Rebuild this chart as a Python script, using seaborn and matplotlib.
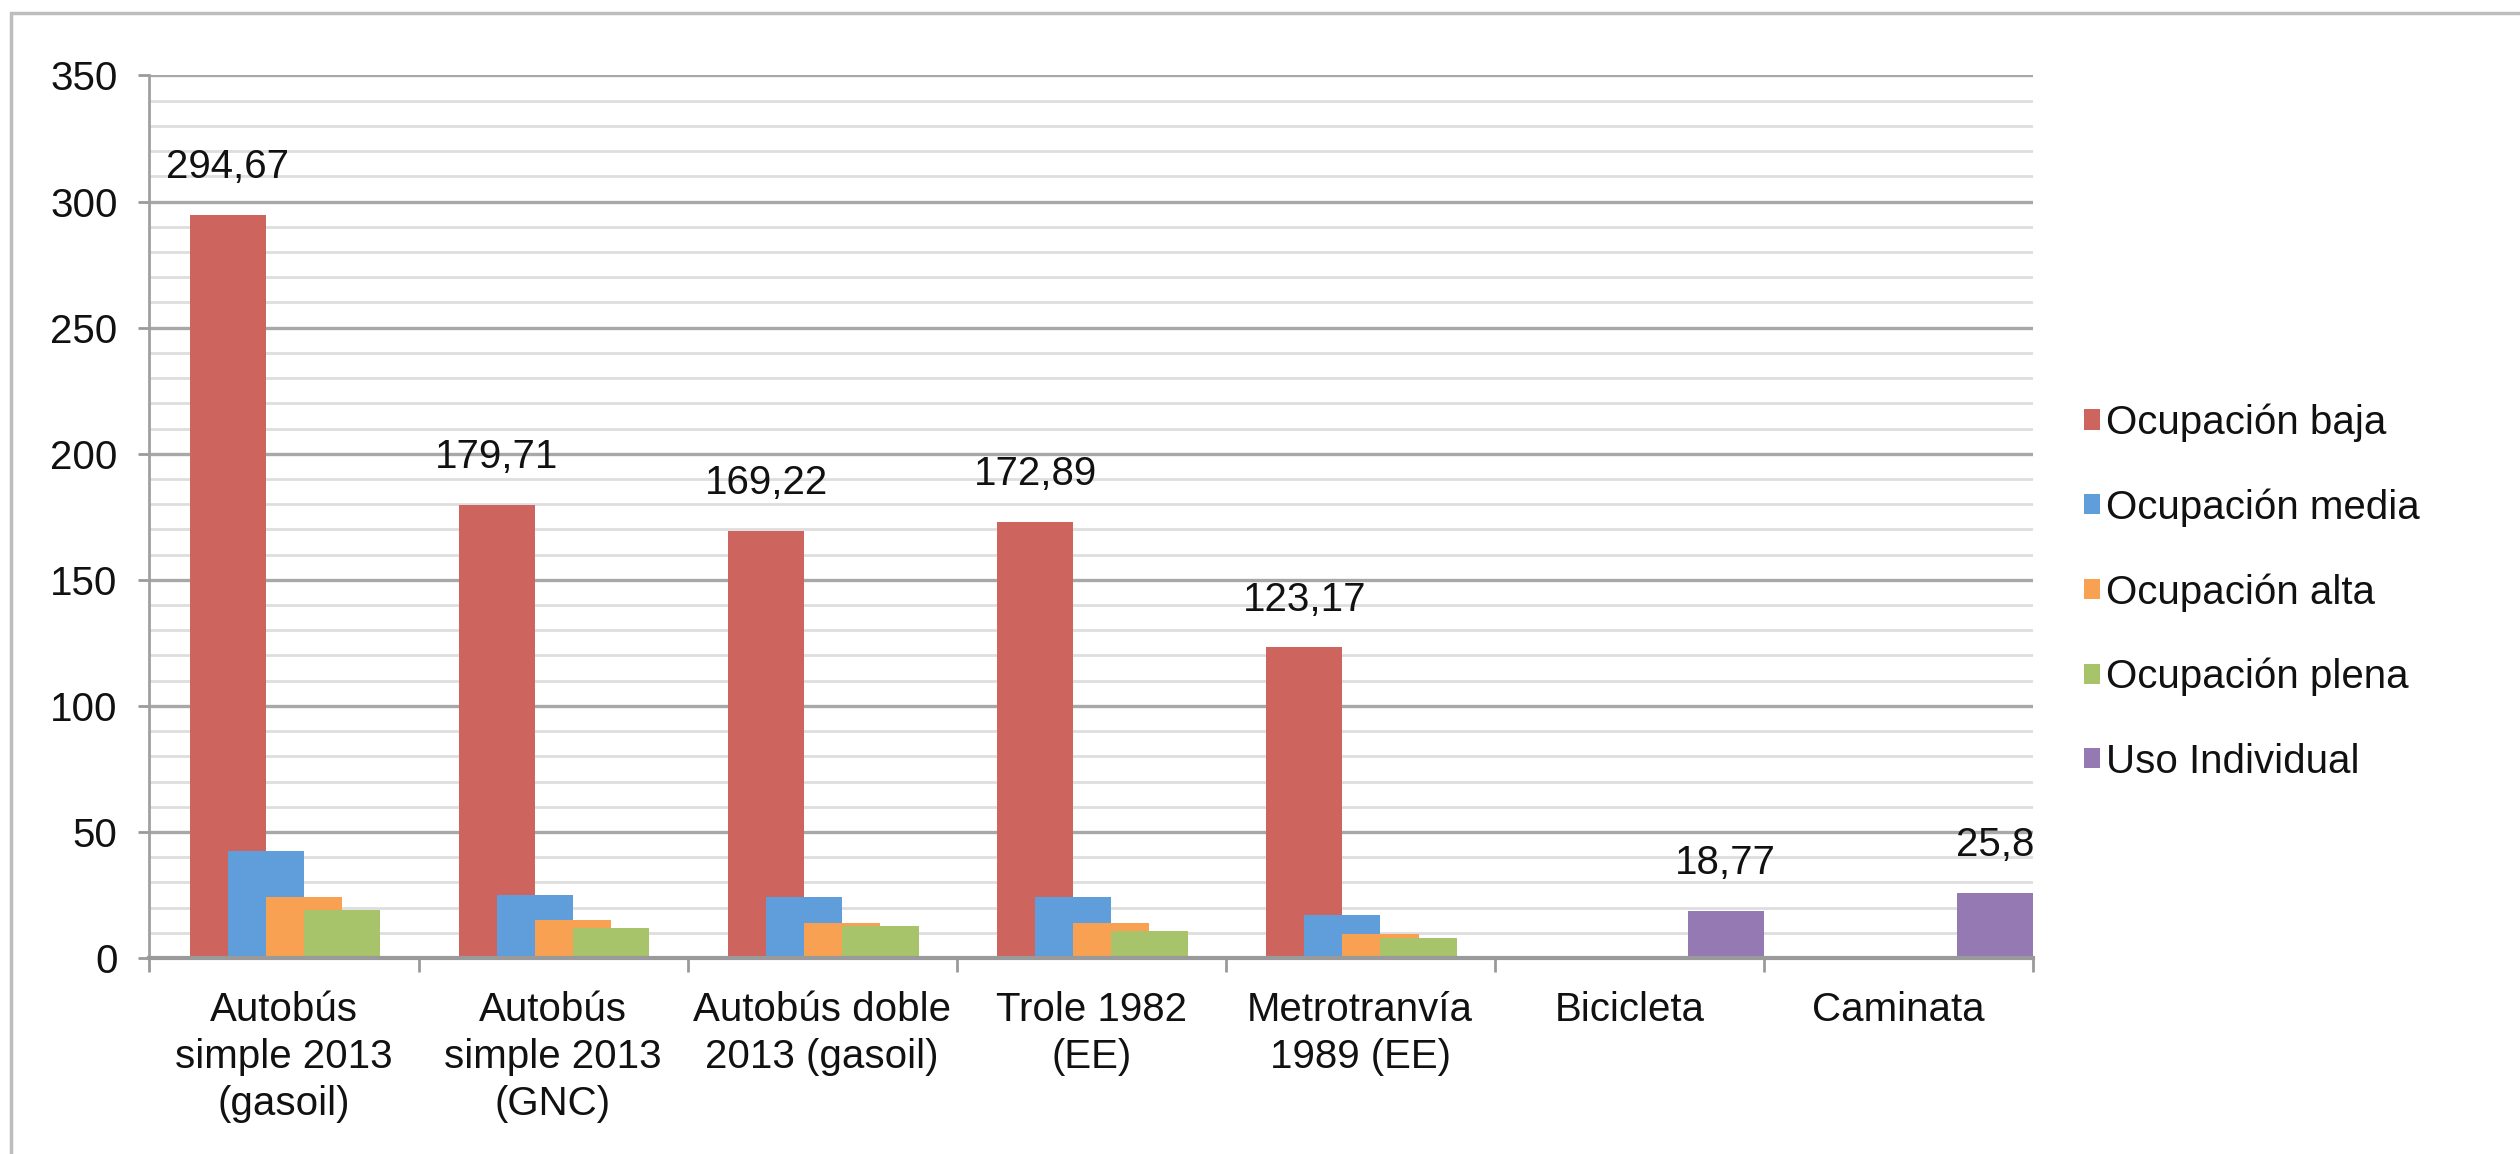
import numpy as np
import pandas as pd
import seaborn as sns
import matplotlib
matplotlib.use("Agg")
import matplotlib.pyplot as plt
from matplotlib.ticker import MultipleLocator, FixedLocator
from matplotlib.patches import Rectangle

# ---------------- data ----------------
categories = [
    "Autobús\nsimple 2013\n(gasoil)",
    "Autobús\nsimple 2013\n(GNC)",
    "Autobús doble\n2013 (gasoil)",
    "Trole 1982\n(EE)",
    "Metrotranvía\n1989 (EE)",
    "Bicicleta",
    "Caminata",
]
series_names = ["Ocupación baja", "Ocupación media", "Ocupación alta",
                "Ocupación plena", "Uso Individual"]
nan = np.nan
ocupacion_baja = [294.67, 179.71, 169.22, 172.89, 123.17, nan, nan]
ocupacion_media = [42.6, 25.1, 24.2, 24.2, 17.0, nan, nan]
ocupacion_alta = [24.2, 15.0, 13.9, 13.9, 9.7, nan, nan]
ocupacion_plena = [19.0, 11.9, 12.8, 10.8, 7.8, nan, nan]
uso_individual = [nan, nan, nan, nan, nan, 18.77, 25.8]
labelled_series = ["Ocupación baja", "Uso Individual"]

series_values = [ocupacion_baja, ocupacion_media, ocupacion_alta,
                 ocupacion_plena, uso_individual]
colors = ["#CD645E", "#5F9DDB", "#F9A152", "#A7C46A", "#9579B2"]

# ---------------- style ----------------
sns.set_theme(style="white")
plt.rcParams["font.family"] = ["Liberation Sans", "DejaVu Sans"]
FS = 29

fig = plt.figure(figsize=(25.2, 11.54), dpi=100)
ax = fig.add_axes([0.0593, 0.1698, 0.8067 - 0.0593, 0.9346 - 0.1698])

bar_w = 0.2833
step = bar_w / 2
first_offset = -0.5 + (1 - 3 * bar_w) + bar_w / 2

idx = np.arange(len(categories))
handles = []
for i, (name, vals, col) in enumerate(zip(series_names, series_values, colors)):
    vals = np.asarray(vals, dtype=float)
    mask = ~np.isnan(vals)
    xpos = idx[mask] + first_offset + i * step
    df = pd.DataFrame({"x": xpos, "y": vals[mask]})
    sns.barplot(data=df, x="x", y="y", native_scale=True, width=bar_w,
                color=col, saturation=1, linewidth=0, ax=ax, zorder=3 + i)
    handles.append(Rectangle((0, 0), 1, 1, facecolor=col, edgecolor="none"))
    if name in labelled_series:
        for xv, yv in zip(xpos, vals[mask]):
            txt = ("%g" % yv).replace(".", ",")
            ax.annotate(txt, (xv, yv), xytext=(0, 34.5), textcoords="offset points",
                        ha="center", va="center", fontsize=FS, color="#111111",
                        zorder=20)

# ---------------- axes ----------------
ax.set_xlim(-0.5, len(categories) - 0.5)
ax.set_ylim(0, 350)
ax.yaxis.set_major_locator(MultipleLocator(50))
ax.yaxis.set_minor_locator(MultipleLocator(10))
ax.set_xticks(idx)
ax.set_xticklabels(categories, fontsize=FS, color="#111111", linespacing=1.3)
ax.xaxis.set_minor_locator(FixedLocator(np.arange(-0.5, len(categories), 1.0)))
ax.tick_params(axis="x", which="major", length=0, pad=24)
ax.tick_params(axis="x", which="minor", length=10, width=2, color="#9a9a9a",
               direction="out", bottom=True)
ax.tick_params(axis="y", which="major", length=8, width=2, color="#9a9a9a",
               direction="out", left=True, labelsize=FS, labelcolor="#111111", pad=15)
ax.tick_params(axis="y", which="minor", length=0)
ax.set_xlabel("")
ax.set_ylabel("")

ax.grid(axis="y", which="major", color="#a8a8a8", linewidth=2.4, zorder=0)
ax.grid(axis="y", which="minor", color="#dedede", linewidth=2.0, zorder=0)
ax.grid(axis="x", which="both", visible=False)
ax.set_axisbelow(True)

for s in ["top", "right"]:
    ax.spines[s].set_visible(False)
ax.spines["left"].set_color("#a0a0a0")
ax.spines["left"].set_linewidth(2)
ax.spines["bottom"].set_color("#9a9a9a")
ax.spines["bottom"].set_linewidth(3)
ax.spines["bottom"].set_zorder(10)

# ---------------- legend ----------------
leg = fig.legend(handles, series_names, loc="center left",
                 bbox_to_anchor=(2084 / 2520, 1 - 592 / 1154),
                 bbox_transform=fig.transFigure, frameon=False, fontsize=FS,
                 handlelength=0.4, handleheight=0.4, handletextpad=0.15,
                 labelspacing=1.15, borderpad=0, borderaxespad=0)
for t in leg.get_texts():
    t.set_color("#111111")

# figure border
fig.patches.append(Rectangle((11 / 2520, -0.05), 1.2, 1 - 13 / 1154 + 0.05,
                             transform=fig.transFigure, fill=False,
                             edgecolor="#bdbdbd", linewidth=2.5, zorder=0))

fig.savefig("out.png", dpi=100)
